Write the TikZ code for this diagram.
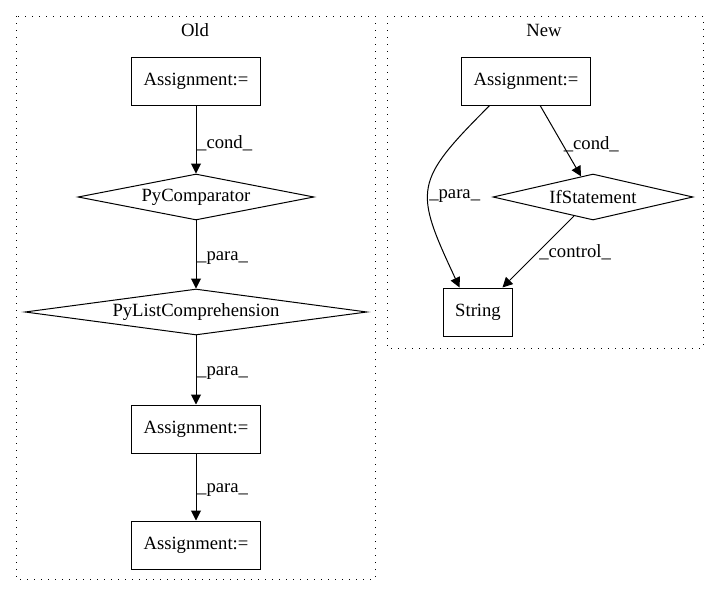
\documentclass[tikz,border=0pt]{standalone}
\usepackage{fontspec}
\setmainfont{Liberation Serif}
\usetikzlibrary{shapes.geometric,arrows.meta}

\begin{document}
\begin{tikzpicture}[	x=0.75pt,y=-0.75pt,%
					every node/.style={font=\fontsize{14}{16}\selectfont},%
					box/.style={draw,rectangle,line width=.75pt,minimum height=36pt,inner xsep=9pt},%
					cond/.style={draw,diamond,line width=.75pt,aspect=6,inner sep=0pt,minimum height=34.5pt},%
					cluster/.style={line width=.75pt,dash pattern=on .75pt off 4.5pt},%
					link/.style={line width=.75pt,-{Triangle[length=7.5pt,width=7.5pt]}},%
					lbl/.style={anchor=west,inner sep=.5pt}]

\useasboundingbox (0,0) rectangle (719,596);

% clusters
\draw [cluster] (16,16) rectangle (375,579);
\draw [cluster] (387,16) rectangle (703,348);
\node (oldtitle) at (195,30) {Old};
\node (newtitle) at (544,30) {New};

\foreach \a/\b/\c/\d in {asgA/196/81/{Assignment:=},asgB/196/429/{Assignment:=},asgC/196/545/{Assignment:=},asgN/526/81/{Assignment:=},str/478/312/String}
	\node [box] (\a) at (\b,\c) {\d};

\foreach \a/\b/\c/\w/\d in {cmp/196/197/177/PyComparator,listc/196/312/256.5/PyListComprehension,ifs/593/197/150/IfStatement}
	\node [cond,minimum width=\w pt] (\a) at (\b,\c) {\d};

% old
\foreach \from/\to/\t in {asgA/cmp/cond,cmp/listc/para,listc/asgB/para,asgB/asgC/para}
	\draw [link] (\from) -- (\to) node[lbl,pos=.55] {\_\t\_};

% new
\draw [link] (asgN) -- (ifs) node[lbl,pos=.55] {\_cond\_};
\draw [link] (ifs) -- (str) node[lbl,pos=.5] {\_control\_};
\draw [link] (asgN.214) to[out=225,in=115,looseness=1.5] node[lbl,pos=.55] {\_para\_} (str.127);

\end{tikzpicture}
\end{document}
